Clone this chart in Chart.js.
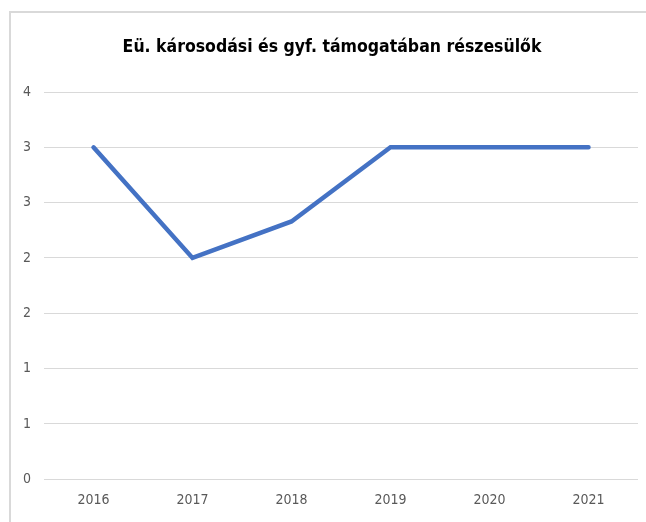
<!DOCTYPE html>
<html>
<head>
<meta charset="utf-8">
<script src="https://cdn.jsdelivr.net/npm/chart.js@4/dist/chart.umd.min.js"></script>
<style>
  html, body { margin: 0; padding: 0; background: #fff; }
  #wrap { position: relative; width: 646px; height: 522px; }
  #frame {
    position: absolute; left: 9px; top: 11px; right: 0; bottom: 0;
    border-left: 2px solid #d9d9d9; border-top: 2px solid #d9d9d9;
    pointer-events: none;
  }
</style>
</head>
<body>
<div id="wrap">
  <canvas id="myLineChart" width="646" height="522"></canvas>
  <div id="frame"></div>
</div>
<script>
// adatok
const years = ["2016", "2017", "2018", "2019", "2020", "2021"];
const values = [3, 2, 2.33, 3, 3, 3];
// Excel kerekített tengelyfeliratai (0, 0.5, 1 ... 3.5)
const yTickLabels = ["0", "1", "1", "2", "2", "3", "3", "4"];
const chartTitle = "Eü. károsodási és gyf. támogatában részesülők";

document.addEventListener('DOMContentLoaded', function() {
    const canvas = document.getElementById('myLineChart');
    if (!canvas) return;
    const ctx = canvas.getContext('2d');

    const font = "'Liberation Sans Narrow', 'DejaVu Sans Condensed', sans-serif";

    // cím a keret közepére (a keret x=9-től indul, ezért kicsit jobbra)
    const titlePlugin = {
        id: 'frameTitle',
        afterDraw(chart) {
            const c = chart.ctx;
            c.save();
            c.font = "bold 17.5px " + font;
            c.fillStyle = "#000";
            c.textAlign = "center";
            c.textBaseline = "middle";
            c.fillText(chartTitle, 332, 47);
            c.restore();
        }
    };

    new Chart(ctx, {
        type: 'line',
        data: {
            labels: years,
            datasets: [{
                label: chartTitle,
                data: values,
                borderColor: "#4472C4",
                borderWidth: 4.5,
                borderCapStyle: 'round',
                pointRadius: 0,
                fill: false,
                tension: 0
            }]
        },
        options: {
            responsive: false,
            animation: false,
            layout: { padding: { left: 0, right: 8, top: 92, bottom: 0 } },
            scales: {
                x: {
                    offset: true,
                    grid: { display: false, drawTicks: false },
                    border: { display: false },
                    ticks: { color: "#595959", padding: 13, font: { family: font, size: 14 } }
                },
                y: {
                    min: 0,
                    max: 3.5,
                    afterFit: function(scale) { scale.width = 44; },
                    ticks: {
                        stepSize: 0.5,
                        padding: 13,
                        color: "#595959",
                        font: { family: font, size: 14 },
                        callback: function(value, index) { return yTickLabels[index]; }
                    },
                    grid: { color: "#d9d9d9", lineWidth: 1, drawTicks: false },
                    border: { display: false }
                }
            },
            plugins: {
                legend: { display: false },
                tooltip: { enabled: false },
                title: { display: false }
            }
        },
        plugins: [titlePlugin]
    });
});
</script>
</body>
</html>
